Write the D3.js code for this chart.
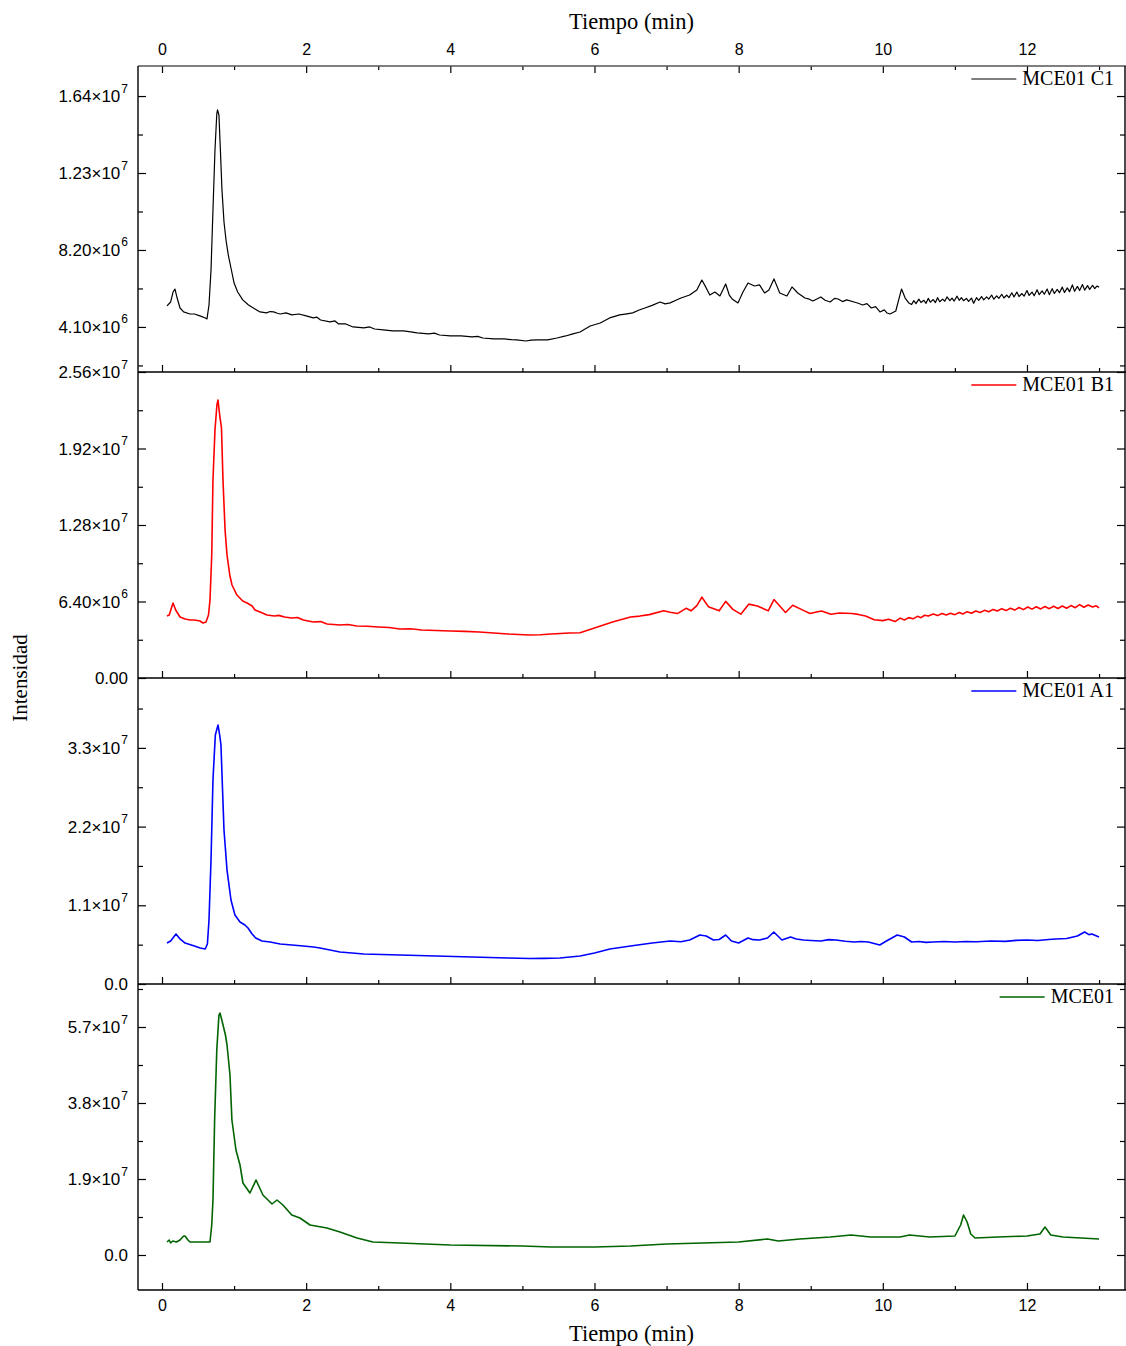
<!DOCTYPE html>
<html>
<head>
<meta charset="utf-8">
<script src="https://cdn.jsdelivr.net/npm/d3@7"></script>
<style>
  body { margin: 0; background: #fff; }
  svg { display: block; }
</style>
</head>
<body>
<svg id="chart" width="1126" height="1346"></svg>
<script>
// Chromatograms: [retention time (min), intensity (millions of counts)]
const seriesC1 = [
  [0.069,5.22],[0.12,5.43],[0.153,5.96],[0.18,6.12],[0.21,5.64],[0.25,5.11],[0.30,4.90],[0.388,4.79],
  [0.45,4.79],[0.527,4.69],[0.60,4.58],[0.624,4.53],[0.652,5.27],[0.68,7.14],[0.707,10.33],[0.735,13.52],
  [0.76,15.44],[0.77,15.66],[0.79,15.39],[0.81,13.52],[0.832,11.40],[0.86,9.69],[0.888,8.73],[0.92,7.93],
  [0.957,7.24],[1.00,6.44],[1.05,5.96],[1.12,5.54],[1.20,5.27],[1.29,5.06],[1.36,4.90],[1.45,4.85],
  [1.50,4.92],[1.55,4.90],[1.60,4.83],[1.64,4.79],[1.72,4.85],[1.80,4.74],[1.90,4.79],[2.00,4.69],
  [2.10,4.58],[2.15,4.62],[2.20,4.47],[2.33,4.37],[2.40,4.42],[2.45,4.26],[2.55,4.26],[2.60,4.18],
  [2.65,4.10],[2.80,4.05],[2.88,4.10],[2.95,3.99],[3.07,3.94],[3.20,3.89],[3.35,3.89],[3.45,3.84],
  [3.54,3.78],[3.70,3.73],[3.78,3.77],[3.85,3.67],[4.00,3.62],[4.15,3.62],[4.30,3.57],[4.38,3.60],
  [4.45,3.51],[4.60,3.46],[4.75,3.46],[4.85,3.42],[4.92,3.41],[5.05,3.35],[5.12,3.40],[5.20,3.41],
  [5.35,3.41],[5.48,3.51],[5.60,3.62],[5.70,3.73],[5.80,3.83],[5.94,4.15],[6.08,4.31],[6.21,4.58],
  [6.35,4.74],[6.45,4.80],[6.53,4.85],[6.62,5.00],[6.70,5.11],[6.80,5.25],[6.91,5.43],[6.98,5.33],
  [7.05,5.38],[7.13,5.52],[7.20,5.64],[7.32,5.80],[7.42,6.07],[7.49,6.60],[7.55,6.18],[7.60,5.80],
  [7.67,5.96],[7.74,5.75],[7.82,6.39],[7.87,5.80],[7.91,5.59],[7.99,5.38],[8.06,5.96],[8.13,6.44],
  [8.22,6.28],[8.29,6.34],[8.36,5.91],[8.42,6.07],[8.49,6.66],[8.57,5.91],[8.67,5.75],[8.74,6.23],
  [8.82,5.91],[8.92,5.64],[8.98,5.58],[9.03,5.48],[9.14,5.70],[9.20,5.52],[9.27,5.43],[9.33,5.62],
  [9.38,5.59],[9.44,5.45],[9.50,5.54],[9.60,5.43],[9.66,5.36],[9.72,5.27],[9.78,5.34],[9.84,5.11],
  [9.90,5.18],[9.96,4.90],[10.02,5.01],[10.06,4.84],[10.10,4.79],[10.18,4.95],[10.22,5.54],[10.26,6.12],
  [10.31,5.64],[10.36,5.38],[10.40,5.30],[10.43,5.50],[10.46,5.34],[10.50,5.58],[10.53,5.40],[10.57,5.52],
  [10.60,5.36],[10.63,5.62],[10.66,5.42],[10.70,5.56],[10.73,5.40],[10.76,5.66],[10.79,5.44],[10.83,5.58],
  [10.86,5.47],[10.89,5.70],[10.93,5.50],[10.96,5.64],[10.99,5.48],[11.03,5.74],[11.06,5.52],[11.09,5.66],
  [11.12,5.50],[11.16,5.62],[11.19,5.46],[11.23,5.64],[11.26,5.36],[11.30,5.66],[11.33,5.52],[11.37,5.72],
  [11.40,5.54],[11.44,5.70],[11.47,5.58],[11.51,5.80],[11.54,5.58],[11.58,5.76],[11.61,5.62],[11.65,5.84],
  [11.68,5.64],[11.72,5.80],[11.75,5.66],[11.79,5.92],[11.82,5.70],[11.86,5.96],[11.89,5.72],[11.93,5.88],
  [11.96,5.74],[12.00,6.04],[12.03,5.78],[12.07,5.96],[12.10,5.76],[12.14,6.08],[12.17,5.82],[12.21,6.02],
  [12.24,5.84],[12.28,6.12],[12.31,5.82],[12.35,6.14],[12.38,5.88],[12.42,6.10],[12.45,5.92],[12.49,6.22],
  [12.52,5.94],[12.56,6.18],[12.59,5.98],[12.63,6.34],[12.66,6.00],[12.70,6.26],[12.73,6.04],[12.77,6.36],
  [12.80,6.06],[12.84,6.30],[12.87,6.10],[12.91,6.32],[12.94,6.14],[12.97,6.28],[13.00,6.22]
];

const seriesB1 = [
  [0.069,5.19],[0.10,5.27],[0.153,6.27],[0.19,5.69],[0.25,5.10],[0.32,4.94],[0.388,4.85],[0.45,4.85],
  [0.527,4.77],[0.569,4.60],[0.61,4.69],[0.645,5.27],[0.666,6.53],[0.69,10.29],[0.707,16.56],[0.735,20.75],
  [0.762,22.84],[0.777,23.26],[0.80,22.00],[0.825,20.92],[0.846,16.56],[0.875,12.38],[0.902,10.29],[0.94,8.62],
  [0.971,7.78],[1.04,6.94],[1.12,6.44],[1.18,6.27],[1.25,6.02],[1.29,5.69],[1.36,5.52],[1.456,5.27],
  [1.56,5.19],[1.62,5.24],[1.70,5.10],[1.80,5.02],[1.88,5.06],[1.96,4.85],[2.10,4.69],[2.20,4.72],
  [2.29,4.52],[2.47,4.43],[2.58,4.47],[2.70,4.35],[2.85,4.33],[3.00,4.27],[3.15,4.22],[3.30,4.10],
  [3.45,4.12],[3.60,4.02],[3.80,3.98],[4.00,3.93],[4.20,3.90],[4.40,3.85],[4.60,3.76],[4.80,3.68],
  [4.95,3.64],[5.10,3.60],[5.25,3.62],[5.40,3.68],[5.65,3.76],[5.80,3.79],[6.00,4.18],[6.25,4.69],
  [6.50,5.10],[6.63,5.18],[6.76,5.30],[6.96,5.62],[7.05,5.50],[7.15,5.39],[7.27,5.83],[7.34,5.62],
  [7.42,6.05],[7.49,6.76],[7.58,5.97],[7.73,5.62],[7.82,6.41],[7.92,5.74],[8.03,5.34],[8.14,6.18],
  [8.26,6.03],[8.41,5.62],[8.49,6.56],[8.65,5.48],[8.75,6.09],[8.89,5.68],[8.99,5.39],[9.08,5.52],
  [9.15,5.60],[9.28,5.34],[9.40,5.44],[9.57,5.39],[9.66,5.32],[9.76,5.19],[9.88,4.87],[10.00,4.80],
  [10.08,4.92],[10.17,4.72],[10.24,5.01],[10.30,4.85],[10.36,5.05],[10.42,4.95],[10.48,5.16],[10.53,5.05],
  [10.58,5.25],[10.63,5.18],[10.70,5.35],[10.76,5.22],[10.82,5.40],[10.88,5.28],[10.94,5.42],[11.00,5.30],
  [11.06,5.48],[11.11,5.36],[11.17,5.55],[11.23,5.42],[11.29,5.60],[11.35,5.48],[11.41,5.66],[11.47,5.54],
  [11.53,5.74],[11.59,5.60],[11.65,5.80],[11.71,5.64],[11.77,5.84],[11.83,5.68],[11.89,5.90],[11.95,5.72],
  [12.01,5.94],[12.07,5.76],[12.13,5.96],[12.19,5.78],[12.25,5.98],[12.31,5.80],[12.37,6.00],[12.43,5.82],
  [12.49,6.02],[12.55,5.84],[12.61,6.06],[12.67,5.88],[12.73,6.14],[12.79,5.92],[12.85,6.10],[12.91,5.94],
  [12.96,6.04],[13.00,5.86]
];

const seriesA1 = [
  [0.069,5.73],[0.12,6.01],[0.194,6.99],[0.25,6.29],[0.32,5.73],[0.45,5.31],[0.53,5.03],[0.60,4.89],
  [0.63,5.59],[0.652,8.95],[0.68,17.33],[0.707,28.51],[0.74,34.80],[0.777,36.20],[0.80,34.80],[0.818,33.41],
  [0.84,27.12],[0.86,21.52],[0.902,15.93],[0.957,11.74],[1.012,9.64],[1.082,8.67],[1.15,8.25],[1.193,7.83],
  [1.25,6.99],[1.30,6.43],[1.387,6.01],[1.50,5.87],[1.64,5.59],[1.80,5.45],[1.96,5.31],[2.10,5.17],
  [2.191,5.03],[2.33,4.75],[2.469,4.47],[2.80,4.19],[3.05,4.12],[3.30,4.05],[3.55,3.98],[3.80,3.91],
  [4.05,3.84],[4.30,3.77],[4.55,3.70],[4.80,3.63],[5.10,3.56],[5.30,3.58],[5.52,3.63],[5.80,3.91],
  [6.00,4.33],[6.214,4.89],[6.50,5.31],[6.80,5.73],[7.05,6.01],[7.20,5.90],[7.32,6.15],[7.462,6.85],
  [7.55,6.71],[7.65,6.15],[7.73,6.22],[7.82,6.85],[7.90,6.01],[8.00,5.73],[8.13,6.43],[8.20,6.20],
  [8.29,6.15],[8.40,6.43],[8.488,7.27],[8.60,6.15],[8.72,6.57],[8.80,6.30],[8.90,6.15],[9.00,6.08],
  [9.14,6.01],[9.25,6.20],[9.35,6.15],[9.48,5.98],[9.60,5.87],[9.70,5.94],[9.80,5.87],[9.958,5.45],
  [10.05,6.01],[10.20,6.85],[10.30,6.57],[10.40,5.87],[10.50,5.95],[10.60,5.82],[10.70,5.87],[10.85,5.94],
  [11.00,5.87],[11.15,5.95],[11.30,5.90],[11.50,6.01],[11.70,5.96],[11.85,6.10],[12.00,6.15],[12.15,6.08],
  [12.30,6.22],[12.40,6.29],[12.55,6.35],[12.70,6.71],[12.80,7.27],[12.86,6.90],[12.90,6.99],[13.00,6.57]
];

const seriesMCE01 = [
  [0.069,3.25],[0.10,3.75],[0.12,3.00],[0.15,3.50],[0.20,3.25],[0.25,3.75],[0.30,4.75],[0.319,4.75],
  [0.36,3.75],[0.388,3.25],[0.50,3.25],[0.60,3.25],[0.666,3.25],[0.69,7.50],[0.707,13.75],[0.73,33.75],
  [0.76,51.25],[0.79,60.00],[0.804,60.50],[0.83,58.75],[0.88,55.00],[0.902,52.50],[0.943,45.00],[0.97,33.75],
  [1.026,26.25],[1.082,22.50],[1.123,18.00],[1.22,15.50],[1.304,18.75],[1.40,15.00],[1.526,12.75],[1.595,13.75],
  [1.678,12.50],[1.80,10.00],[1.914,9.25],[2.053,7.50],[2.288,6.75],[2.469,5.75],[2.705,4.25],[2.927,3.25],
  [3.30,3.00],[4.00,2.50],[5.00,2.25],[5.40,2.00],[6.00,2.00],[6.50,2.25],[7.00,2.75],[7.50,3.00],
  [8.00,3.25],[8.40,4.00],[8.55,3.50],[8.85,4.00],[9.27,4.50],[9.56,5.00],[9.83,4.50],[10.24,4.50],
  [10.37,5.00],[10.65,4.50],[11.00,4.75],[11.08,7.50],[11.12,10.00],[11.17,8.25],[11.22,5.25],[11.28,4.25],
  [11.60,4.50],[12.00,4.75],[12.18,5.25],[12.25,7.00],[12.33,5.00],[12.50,4.50],[13.00,4.00]
];

// Time axis ticks (min)
const timeTicks = [0, 2, 4, 6, 8, 10, 12];
const timeMinorTicks = [1, 3, 5, 7, 9, 11, 13];

// Intensity ticks per panel (millions) with their printed labels [mantissa, exponent]
const ticksC1 = [4.1, 8.2, 12.3, 16.4];
const labelsC1 = [["4.10×10", "6"], ["8.20×10", "6"], ["1.23×10", "7"], ["1.64×10", "7"]];
const minorC1 = [2.05, 6.15, 10.25, 14.35];

const ticksB1 = [0, 6.4, 12.8, 19.2, 25.6];
const labelsB1 = [["0.00", ""], ["6.40×10", "6"], ["1.28×10", "7"], ["1.92×10", "7"], ["2.56×10", "7"]];
const minorB1 = [3.2, 9.6, 16.0, 22.4];

const ticksA1 = [0, 11, 22, 33];
const labelsA1 = [["0.0", ""], ["1.1×10", "7"], ["2.2×10", "7"], ["3.3×10", "7"]];
const minorA1 = [5.5, 16.5, 27.5, 38.5];

const ticksMCE01 = [0, 19, 38, 57];
const labelsMCE01 = [["0.0", ""], ["1.9×10", "7"], ["3.8×10", "7"], ["5.7×10", "7"]];
const minorMCE01 = [9.5, 28.5, 47.5, 66.5];

const seriesNames = ["MCE01 C1", "MCE01 B1", "MCE01 A1", "MCE01"];
const seriesColors = ["#000000", "#ff0000", "#0000ff", "#006400"];

// ---- layout ----
const left = 138, right = 1125;
const panelTop = 66, panelH = 306;
const sansFont = "'Liberation Sans', Arial, sans-serif";
const serifFont = "'Liberation Serif', 'Times New Roman', serif";

const panels = [
  { data: seriesC1, domain: [1.70, 18.0], ticks: ticksC1, labels: labelsC1, minor: minorC1, width: 1.2 },
  { data: seriesB1, domain: [0, 25.6], ticks: ticksB1, labels: labelsB1, minor: minorB1, width: 1.6 },
  { data: seriesA1, domain: [0, 42.77], ticks: ticksA1, labels: labelsA1, minor: minorA1, width: 1.6 },
  { data: seriesMCE01, domain: [-8.75, 67.75], ticks: ticksMCE01, labels: labelsMCE01, minor: minorMCE01, width: 1.6 }
];

const svg = d3.select("#chart");
const x = d3.scaleLinear().domain([-0.333, 13.36]).range([left, right]);

panels.forEach((p, i) => {
  const top = panelTop + i * panelH;
  const bottom = top + panelH;
  const y = d3.scaleLinear().domain(p.domain).range([bottom, top]);
  const g = svg.append("g");
  const inDomain = v => v >= p.domain[0] && v <= p.domain[1];

  // curve
  const line = d3.line().x(d => x(d[0])).y(d => y(d[1]));
  g.append("path")
    .datum(p.data)
    .attr("fill", "none")
    .attr("stroke", seriesColors[i])
    .attr("stroke-width", p.width)
    .attr("stroke-linejoin", "round")
    .attr("d", line);

  // bottom time ticks (inward); labels only under the last panel
  g.append("g").attr("transform", `translate(0,${bottom})`)
    .call(d3.axisBottom(x).tickValues(timeTicks).tickSize(-7).tickPadding(10)
      .tickFormat(i === 3 ? d3.format("d") : ""));
  g.append("g").attr("transform", `translate(0,${bottom})`)
    .call(d3.axisBottom(x).tickValues(timeMinorTicks).tickSize(-4).tickFormat(""));

  // left intensity ticks (inward)
  g.append("g").attr("transform", `translate(${left},0)`)
    .call(d3.axisLeft(y).tickValues(p.ticks).tickSize(-8).tickFormat(""));
  g.append("g").attr("transform", `translate(${left},0)`)
    .call(d3.axisLeft(y).tickValues(p.minor.filter(inDomain)).tickSize(-5).tickFormat(""));
  // right mirrored ticks
  g.append("g").attr("transform", `translate(${right},0)`)
    .call(d3.axisRight(y).tickValues(p.ticks).tickSize(-8).tickFormat(""));
  g.append("g").attr("transform", `translate(${right},0)`)
    .call(d3.axisRight(y).tickValues(p.minor.filter(inDomain)).tickSize(-5).tickFormat(""));

  // intensity tick labels with superscript exponents
  const lab = g.append("g")
    .attr("font-family", sansFont)
    .attr("font-size", 17)
    .attr("fill", "#000")
    .attr("text-anchor", "end");
  p.ticks.forEach((v, k) => {
    const [mant, exp] = p.labels[k];
    const t = lab.append("text").attr("x", left - 10).attr("y", y(v)).attr("dy", "0.36em");
    t.append("tspan").text(mant);
    if (exp) {
      t.append("tspan").attr("font-size", 12).attr("dy", "-0.8em").attr("dx", "1").text(exp);
    }
  });

  // legend
  const legY = top + 13;
  const txt = g.append("text")
    .attr("x", 1114).attr("y", legY + 6)
    .attr("text-anchor", "end")
    .attr("font-family", serifFont)
    .attr("font-size", 20)
    .attr("fill", "#000")
    .text(seriesNames[i]);
  const tw = txt.node().getComputedTextLength();
  g.append("line")
    .attr("x1", 1114 - tw - 51).attr("x2", 1114 - tw - 6)
    .attr("y1", legY).attr("y2", legY)
    .attr("stroke", seriesColors[i]).attr("stroke-width", p.width);

  // panel separator line
  g.append("line")
    .attr("x1", left).attr("x2", right + 1)
    .attr("y1", bottom).attr("y2", bottom)
    .attr("stroke", "#000").attr("stroke-width", 1.4);
});

// top time axis with labels
svg.append("g").attr("transform", `translate(0,${panelTop})`)
  .call(d3.axisTop(x).tickValues(timeTicks).tickSize(-7).tickPadding(11).tickFormat(d3.format("d")));
svg.append("g").attr("transform", `translate(0,${panelTop})`)
  .call(d3.axisTop(x).tickValues(timeMinorTicks).tickSize(-4).tickFormat(""));

// frame lines
svg.append("line").attr("x1", left).attr("x2", right + 1).attr("y1", panelTop).attr("y2", panelTop)
  .attr("stroke", "#555").attr("stroke-width", 1.4);
svg.append("line").attr("x1", left).attr("x2", left)
  .attr("y1", panelTop).attr("y2", panelTop + 4 * panelH)
  .attr("stroke", "#000").attr("stroke-width", 1.4);
svg.append("line").attr("x1", right).attr("x2", right)
  .attr("y1", panelTop).attr("y2", panelTop + 4 * panelH)
  .attr("stroke", "#000").attr("stroke-width", 1.4);

// drop default axis domain paths, style ticks and labels
svg.selectAll(".domain").remove();
svg.selectAll(".tick line").attr("stroke", "#000").attr("stroke-width", 1.2);
svg.selectAll(".tick text")
  .attr("font-family", sansFont)
  .attr("font-size", 16)
  .attr("fill", "#000");

// axis titles
svg.append("text")
  .attr("x", (x(0) + x(13)) / 2 + 1).attr("y", 29)
  .attr("text-anchor", "middle")
  .attr("font-family", serifFont).attr("font-size", 22.5)
  .text("Tiempo (min)");
svg.append("text")
  .attr("x", (x(0) + x(13)) / 2 + 1).attr("y", 1341)
  .attr("text-anchor", "middle")
  .attr("font-family", serifFont).attr("font-size", 22.5)
  .text("Tiempo (min)");
svg.append("text")
  .attr("transform", `translate(27,${panelTop + 2 * panelH}) rotate(-90)`)
  .attr("text-anchor", "middle")
  .attr("font-family", serifFont).attr("font-size", 21)
  .text("Intensidad");
</script>
</body>
</html>
